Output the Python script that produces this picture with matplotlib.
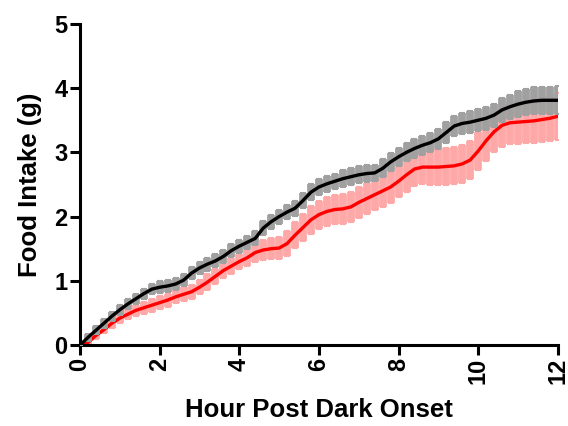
import matplotlib
matplotlib.use("Agg")
import matplotlib.pyplot as plt
import numpy as np

plt.rcParams['font.family'] = ['Liberation Sans', 'DejaVu Sans']
plt.rcParams['font.weight'] = 'bold'

# time (hours after dark onset), 0.2 h steps
hours = np.round(np.arange(0, 12.01, 0.2), 1)

# black group: mean and sem (g)
black_mean = [0.00, 0.12, 0.23, 0.34, 0.45, 0.55, 0.64, 0.72, 0.80, 0.87,
              0.90, 0.92, 0.95, 1.01, 1.12, 1.20, 1.26, 1.31, 1.38, 1.47,
              1.54, 1.60, 1.66, 1.82, 1.92, 2.00, 2.07, 2.13, 2.25, 2.38,
              2.46, 2.51, 2.55, 2.59, 2.62, 2.65, 2.67, 2.68, 2.75, 2.85,
              2.93, 3.00, 3.06, 3.11, 3.15, 3.21, 3.31, 3.41, 3.45, 3.47,
              3.50, 3.53, 3.58, 3.66, 3.71, 3.75, 3.78, 3.80, 3.81, 3.81,
              3.81]
black_sem = [0.00, 0.05, 0.06, 0.07, 0.07, 0.08, 0.08, 0.08, 0.08, 0.08,
             0.09, 0.09, 0.09, 0.09, 0.09, 0.10, 0.10, 0.10, 0.10, 0.10,
             0.10, 0.10, 0.11, 0.11, 0.11, 0.11, 0.11, 0.12, 0.12, 0.12,
             0.12, 0.12, 0.12, 0.13, 0.13, 0.13, 0.13, 0.13, 0.14, 0.14,
             0.14, 0.14, 0.15, 0.15, 0.15, 0.16, 0.16, 0.16, 0.17, 0.17,
             0.17, 0.18, 0.18, 0.19, 0.19, 0.20, 0.20, 0.21, 0.21, 0.21,
             0.22]

# red group: mean and sem (g)
red_mean = [0.00, 0.04, 0.15, 0.24, 0.34, 0.42, 0.48, 0.54, 0.58, 0.62,
            0.66, 0.70, 0.75, 0.79, 0.83, 0.90, 0.98, 1.07, 1.16, 1.23,
            1.30, 1.36, 1.44, 1.48, 1.50, 1.51, 1.58, 1.71, 1.83, 1.95,
            2.03, 2.08, 2.11, 2.12, 2.15, 2.22, 2.28, 2.34, 2.40, 2.46,
            2.55, 2.65, 2.74, 2.77, 2.77, 2.77, 2.78, 2.79, 2.82, 2.88,
            3.02, 3.18, 3.32, 3.42, 3.46, 3.47, 3.48, 3.49, 3.51, 3.53,
            3.56]
red_sem = [0.00, 0.04, 0.05, 0.06, 0.07, 0.08, 0.08, 0.09, 0.09, 0.10,
           0.10, 0.10, 0.10, 0.11, 0.11, 0.11, 0.12, 0.12, 0.12, 0.12,
           0.12, 0.13, 0.14, 0.15, 0.16, 0.17, 0.19, 0.20, 0.21, 0.22,
           0.22, 0.22, 0.23, 0.23, 0.23, 0.24, 0.24, 0.24, 0.25, 0.25,
           0.25, 0.26, 0.27, 0.27, 0.28, 0.28, 0.29, 0.29, 0.30, 0.30,
           0.30, 0.31, 0.32, 0.33, 0.33, 0.34, 0.34, 0.35, 0.35, 0.36,
           0.37]

fig = plt.figure(figsize=(5.68, 4.26), dpi=100)
ax = fig.add_axes([0.141, 0.19, 0.841, 0.754])

ax.errorbar(hours, red_mean, yerr=red_sem, color='#ff0000', ecolor='#ffa8a8',
            elinewidth=5.6, capsize=2.5, capthick=1.5, lw=2.4, zorder=2)
ax.errorbar(hours, black_mean, yerr=black_sem, color='black', ecolor='#a0a0a0',
            elinewidth=5.6, capsize=2.5, capthick=1.5, lw=2.4, zorder=3)

ax.set_xlim(0, 12)
ax.set_ylim(0, 5)
ax.set_xticks(range(0, 13, 2))
ax.set_yticks(range(0, 6))
for lbl in ax.get_xticklabels():
    lbl.set_rotation(90)

ax.spines['top'].set_visible(False)
ax.spines['right'].set_visible(False)
ax.spines['left'].set_linewidth(2.2)
ax.spines['bottom'].set_linewidth(2.2)
ax.tick_params(width=2.2, length=7, labelsize=17, pad=2)

ax.set_xlabel('Hour Post Dark Onset', fontsize=18.5, fontweight='bold', labelpad=10)
ax.set_ylabel('Food Intake (g)', fontsize=18.5, fontweight='bold', labelpad=9)

fig.savefig('out.png', dpi=100)
